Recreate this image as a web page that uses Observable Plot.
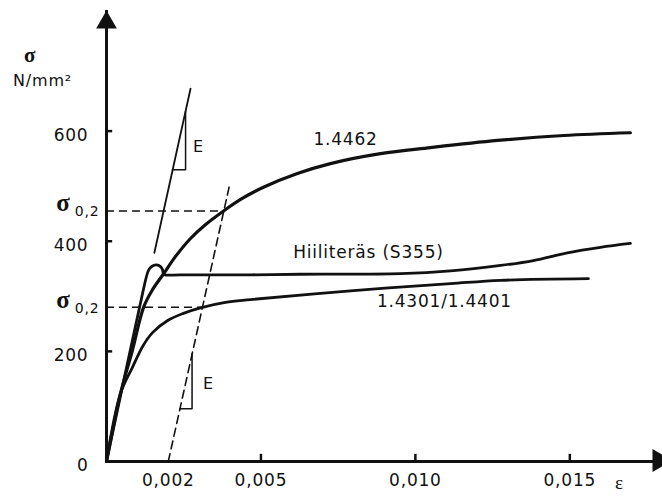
<!DOCTYPE html>
<html>
<head>
<meta charset="utf-8">
<script src="https://cdn.jsdelivr.net/npm/d3@7"></script>
<script src="https://cdn.jsdelivr.net/npm/@observablehq/plot@0.6"></script>
<style>
  html, body { margin: 0; padding: 0; background: #fff; }
  #chart { width: 662px; height: 497px; }
</style>
</head>
<body>
<div id="chart"></div>
<script>
// ---- axis ticks ----
const xTicks = [0.002, 0.005, 0.010, 0.015];
const xTickMarks = [0.005, 0.010, 0.015];
const yTicks = [0, 200, 400, 600];
const yTickMarks = [200, 400, 600];

// ---- stress-strain curves (strain ε, stress σ N/mm²) ----
const duplexEps = [0, 0.00045, 0.00084, 0.00120, 0.00149, 0.00185, 0.00223, 0.00272, 0.00320, 0.00379, 0.00434, 0.00508, 0.00618, 0.00725, 0.00887, 0.01049, 0.01266, 0.01480, 0.01696];
const duplexSig = [0, 123, 202, 280, 312, 341, 372, 405, 430, 455, 476, 498, 523, 541, 559, 570, 583, 592, 597];

const carbonEps = [0, 0.00107, 0.00133, 0.00139, 0.00149, 0.00162, 0.00175, 0.00181, 0.00186, 0.00240, 0.00466, 0.00628, 0.00952, 0.01114, 0.01276, 0.01382, 0.01492, 0.01599, 0.01696];
const carbonSig = [0, 280, 343, 350, 355, 357, 354, 349, 340, 339, 339, 340, 341, 346, 356, 365, 379, 389, 396];

const austEps = [0, 0.00045, 0.00084, 0.00117, 0.00149, 0.00198, 0.00249, 0.00304, 0.00385, 0.00466, 0.00790, 0.01114, 0.01276, 0.01560];
const austSig = [0, 123, 171, 209, 234, 256, 269, 279, 289, 294, 310, 323, 329, 332];

// ---- construction lines ----
const eLineEps = [0.00155, 0.00272];
const eLineSig = [379, 677];
const triUpEps = [0.00214, 0.00256, 0.00256];
const triUpSig = [530, 530, 636];
const offsetEps = [0.002, 0.00398];
const offsetSig = [0, 501];
const triLoEps = [0.00238, 0.00277, 0.00277];
const triLoSig = [96, 96, 196];
const sig02Vals = [455, 280];
const sig02Ends = [0.00379, 0.00310];

// ---- labels ----
const curveLabels = ["1.4462", "Hiiliteräs (S355)", "1.4301/1.4401"];
const curveLabelEps = [0.00774, 0.00848, 0.01094];
const curveLabelSig = [585, 379, 291];
const eLabels = ["E", "E"];
const eLabelEps = [0.00298, 0.00330];
const eLabelSig = [572, 141];

const xMax = 0.018, yMax = 819;
const ink = "#111";
const sans = "DejaVu Sans";
const serif = "Liberation Serif";

const fmtX = d => d.toFixed(3).replace(".", ",");

const chart = Plot.plot({
  width: 662,
  height: 497,
  marginLeft: 106,
  marginRight: 0,
  marginTop: 10,
  marginBottom: 36,
  x: {domain: [0, xMax]},
  y: {domain: [0, yMax]},
  style: {fontFamily: sans, fontSize: "17px", letterSpacing: "0.8px", color: ink, background: "#fff"},
  marks: [
    // axes lines
    Plot.ruleY([0], {x1: 0, x2: xMax, stroke: ink, strokeWidth: 3}),
    Plot.ruleX([0], {y1: 0, y2: yMax, stroke: ink, strokeWidth: 3}),
    Plot.dot([[0, yMax]], {symbol: "triangle", r: 7.7, fill: ink, stroke: null, dy: 12}),
    Plot.dot([[xMax, 0]], {symbol: "triangle", r: 8.5, rotate: 90, fill: ink, stroke: null, dx: -3.4, dy: -1}),
    // tick marks (inward)
    Plot.ruleX(xTickMarks, {x: d => d, y1: 0, y2: 13, stroke: ink, strokeWidth: 2.5}),
    Plot.ruleY(yTickMarks, {y: d => d, x1: 0, x2: 0.0002, stroke: ink, strokeWidth: 2.5}),
    Plot.axisX({ticks: xTicks, tickFormat: fmtX, tickSize: 0, tickPadding: 12, fontSize: 17}),
    Plot.axisY({ticks: yTicks, tickSize: 0, tickPadding: 18, dy: 4, fontSize: 17}),
    // construction lines
    Plot.ruleY(d3.zip(sig02Vals, sig02Ends), {y: d => d[0], x1: 0, x2: d => d[1], stroke: ink, strokeWidth: 1.6, strokeDasharray: "8,5"}),
    Plot.line(d3.zip(offsetEps, offsetSig), {stroke: ink, strokeWidth: 1.6, strokeDasharray: "8,5"}),
    Plot.line(d3.zip(eLineEps, eLineSig), {stroke: ink, strokeWidth: 1.8}),
    Plot.line(d3.zip(triUpEps, triUpSig), {stroke: ink, strokeWidth: 1.5}),
    Plot.line(d3.zip(triLoEps, triLoSig), {stroke: ink, strokeWidth: 1.5}),
    // curves
    Plot.line(d3.zip(austEps, austSig), {curve: "catmull-rom", stroke: ink, strokeWidth: 2.8}),
    Plot.line(d3.zip(carbonEps, carbonSig), {curve: "catmull-rom", stroke: ink, strokeWidth: 2.8}),
    Plot.line(d3.zip(duplexEps, duplexSig), {curve: "catmull-rom", stroke: ink, strokeWidth: 3.2}),
    // labels
    Plot.text(curveLabels, {x: curveLabelEps, y: curveLabelSig, text: d => d, fill: ink, fontSize: 17}),
    Plot.text(eLabels, {x: eLabelEps, y: eLabelSig, text: d => d, fill: ink, fontSize: 16}),
    Plot.text(sig02Vals, {x: 0, y: d => d, text: () => "σ", dx: -43, dy: -7.5, fontSize: 25, fontFamily: serif, fontWeight: "bold", fill: ink}),
    Plot.text(sig02Vals, {x: 0, y: d => d, text: () => "0,2", dx: -19.5, dy: 1, fontSize: 14, fill: ink}),
    Plot.text(["σ"], {frameAnchor: "top-left", textAnchor: "middle", lineAnchor: "middle", dx: -76.5, dy: 44.4, fontSize: 21, fontFamily: serif, fontWeight: "bold", fill: ink}),
    Plot.text(["N/mm²"], {frameAnchor: "top-left", textAnchor: "middle", lineAnchor: "middle", dx: -64, dy: 70.7, fontSize: 16, fill: ink}),
    Plot.text(["ε"], {frameAnchor: "bottom-right", textAnchor: "middle", lineAnchor: "middle", dx: -43, dy: 21, fontSize: 19, fontFamily: serif, fill: ink})
  ]
});
document.getElementById("chart").appendChild(chart);
</script>
</body>
</html>
